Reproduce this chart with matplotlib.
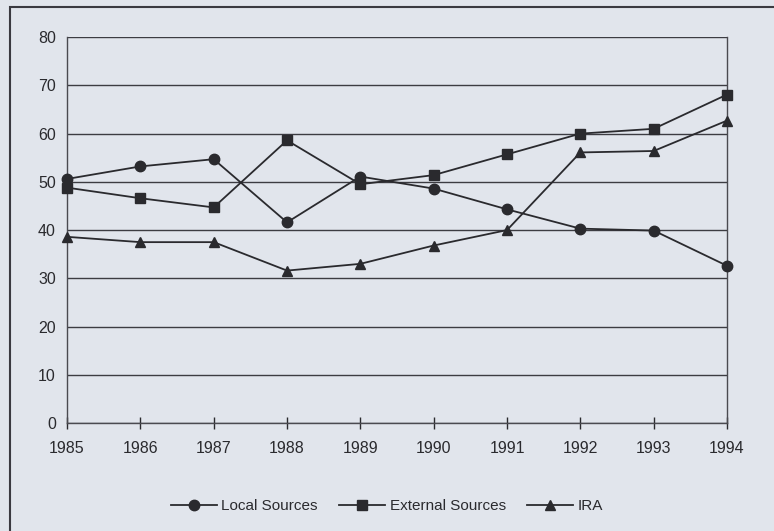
import matplotlib
import matplotlib.pyplot as plt
from matplotlib.patches import Rectangle

matplotlib.use("Agg")

years = [1985, 1986, 1987, 1988, 1989, 1990, 1991, 1992, 1993, 1994]
local_sources = [50.6, 53.2, 54.7, 41.6, 51.1, 48.6, 44.3, 40.3, 39.9, 32.6]
external_sources = [48.8, 46.6, 44.7, 58.6, 49.5, 51.4, 55.7, 60.0, 61.0, 68.1]
ira = [38.6, 37.5, 37.5, 31.6, 33.0, 36.8, 40.0, 56.1, 56.4, 62.7]
y_ticks = [0, 10, 20, 30, 40, 50, 60, 70, 80]

plt.rcParams["font.family"] = ["Liberation Sans", "DejaVu Sans"]

bg = "#e1e5ec"
ink = "#2a2a2e"

fig = plt.figure(figsize=(7.74, 5.31), dpi=100, facecolor=bg)
ax = fig.add_axes([0.0866, 0.2034, 0.8527, 0.7266])
ax.set_facecolor(bg)

# scan frame
fig.patches.append(Rectangle((0.013, -0.01), 1.0, 0.997, transform=fig.transFigure,
                             fill=False, edgecolor="#3a3a40", linewidth=1.5))

ax.plot(years, local_sources, "-o", color=ink, lw=1.3, ms=7.5, label="Local Sources", zorder=3, clip_on=False)
ax.plot(years, external_sources, "-s", color=ink, lw=1.3, ms=7.5, label="External Sources", zorder=3, clip_on=False)
ax.plot(years, ira, "-^", color=ink, lw=1.3, ms=7.5, label="IRA", zorder=3, clip_on=False)

ax.set_xlim(years[0], years[-1])
ax.set_ylim(0, 80)
ax.set_xticks(years)
ax.set_yticks(y_ticks)
ax.tick_params(axis="y", length=0, pad=8, labelsize=11.5, colors=ink)
ax.tick_params(axis="x", direction="inout", length=8, width=1, pad=9, labelsize=11.5, colors=ink)
ax.grid(axis="y", color="#3c3c42", linewidth=1.0)
ax.set_axisbelow(True)

ax.spines["top"].set_visible(False)
for side in ["left", "right", "bottom"]:
    ax.spines[side].set_color("#4a4a50")
    ax.spines[side].set_linewidth(1.0)

fig.legend(loc="center", bbox_to_anchor=(0.5, 0.047), ncol=3, frameon=False,
           fontsize=11, handlelength=3.0, columnspacing=1.4, handletextpad=0.3,
           labelcolor=ink)

fig.savefig("out.png", dpi=100, facecolor=bg)
